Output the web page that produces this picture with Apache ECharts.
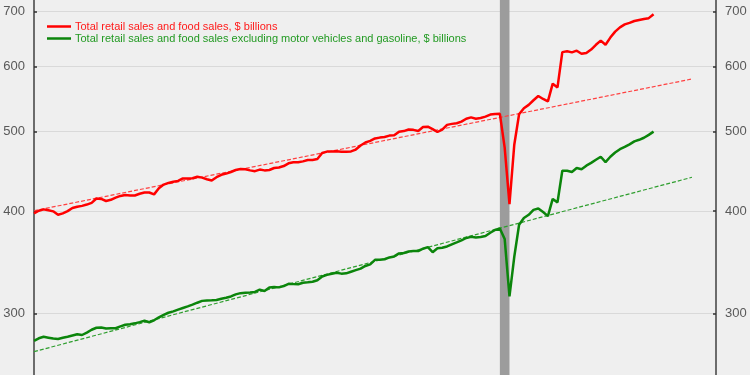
<!DOCTYPE html>
<html>
<head>
<meta charset="utf-8">
<script src="https://cdn.jsdelivr.net/npm/echarts@6/dist/echarts.min.js"></script>
<style>
  html, body { margin: 0; padding: 0; background: #efefef; }
  #chart { width: 750px; height: 375px; }
</style>
</head>
<body>
<div id="chart"></div>
<script>
// Monthly categories Jan 2012 .. Nov 2023 (data ends Oct 2022)
const startYear = 2012;
const monthCount = 143;
const categories = [];
for (let i = 0; i < monthCount; i++) {
  const y = startYear + Math.floor(i / 12);
  const m = (i % 12) + 1;
  categories.push(y + '-' + (m < 10 ? '0' + m : m));
}

// Total retail sales and food sales, $ billions (Jan 2012 .. Oct 2022)
const totalSales = [
  397.6, 400.5, 402, 401, 399.8, 396, 397.5, 400, 403.5, 405,
  406, 407.5, 409.5, 414.5, 414, 411.6, 413, 415.5, 417.5, 418.5,
  418, 418, 420, 421.5, 421.5, 419.3, 426.5, 431, 433, 434.5,
  435.5, 438.5, 438.5, 438.7, 440.5, 439.5, 437.5, 436, 440, 443,
  444.5, 446.5, 449, 450.2, 450, 448.5, 447.5, 449.5, 448.5, 449,
  451.5, 452.2, 454, 457.5, 458.8, 458.8, 460, 461.8, 461.8, 463,
  471, 472.8, 473, 473.3, 472.6, 472.5, 473, 475.5, 481, 485,
  487.2, 490.5, 491.7, 492.5, 494.5, 495, 500, 500.8, 503, 502.5,
  501, 506.5, 507, 503.5, 499.5, 502.8, 509.6, 511, 512, 514.2,
  518.5, 520.4, 518.5, 519.5, 521.5, 524.5, 525.5, 525.6, 478, 408,
  482, 525, 534, 539, 546, 552.5, 548, 544.4, 572, 566,
  625, 626.4, 624.5, 627.5, 622, 623.5, 629.5, 638, 645.5, 638,
  651, 662, 670, 675.5, 678.5, 682, 684, 686, 687.5, 695
];

// Total retail sales and food sales excluding motor vehicles and gasoline, $ billions
const coreSales = [
  278, 280, 281.2, 280.5, 279.8, 279.4, 280.4, 281.2, 282.2, 283.2,
  282.6, 284.5, 286.8, 288.4, 288.6, 287.8, 288, 288, 289.5, 290.8,
  291.2, 292, 293, 294.1, 292.9, 294.5, 297, 299, 300.8, 302,
  303.4, 304.8, 306.2, 307.7, 309.4, 311, 311.4, 311.5, 311.8, 312.9,
  313.8, 314.9, 316.7, 317.8, 318.1, 318.4, 318.9, 321, 319.8, 322.9,
  323.4, 323, 324.2, 326.3, 326, 325.8, 327.2, 327.6, 328.1, 329.5,
  333, 334.5, 335.6, 336.6, 335.7, 336, 337.5, 339, 340.5, 343,
  344.5, 349, 349, 349.5, 351.3, 352.3, 355.3, 355.7, 357.2, 357.7,
  357.7, 360, 361.6, 356.5, 360.5, 361, 362.3, 364.5, 366.4, 368.5,
  371, 372.2, 371.6, 372, 373, 376.5, 379.5, 381, 370, 315,
  352, 385, 392.5, 396, 401.5, 403, 399, 394.5, 414, 410,
  448, 448, 446.5, 451.5, 450, 454.5, 458, 462, 466, 459,
  466, 471.5, 476, 479, 482.5, 486.5, 488.7, 491.5, 495.5, 500
];

// Trend line endpoints (start month, end month) and values
const trendMonths = ['2012-01', '2023-06'];
const totalTrend = [400.5, 579.6];
const coreTrend = [269.7, 439.9];

// Recession shading
const recession = ['2020-02', '2020-04'];

// Axis ticks
const yTicks = [300, 400, 500, 600, 700];
const yMin = 252.6, yMax = 723.4;

const names = [
  'Total retail sales and food sales, $ billions',
  'Total retail sales and food sales excluding motor vehicles and gasoline, $ billions'
];

const chart = echarts.init(document.getElementById('chart'), null, { renderer: 'canvas' });

function yAxisDef(pos) {
  return {
    type: 'log',
    logBase: 10,
    position: pos,
    min: yMin,
    max: yMax,
    axisLine: { show: true, onZero: false, lineStyle: { color: '#404040', width: 1.5 } },
    axisTick: { show: true, inside: true, length: 3, lineStyle: { color: '#303030', width: 1.5 }, customValues: yTicks },
    axisLabel: {
      show: true, customValues: yTicks, color: '#595959', fontSize: 13,
      fontFamily: 'Liberation Sans, Arial, sans-serif', margin: 9,
      formatter: v => String(Math.round(v))
    },
    splitLine: { show: pos === 'left', lineStyle: { color: '#d9d9d9', width: 1 } },
    minorTick: { show: false },
    minorSplitLine: { show: false }
  };
}

chart.setOption({
  backgroundColor: '#efefef',
  animation: false,
  grid: { left: 34, right: 34, top: 0, bottom: 0, containLabel: false },
  legend: {
    data: [
      { name: names[0], icon: 'rect', textStyle: { color: '#ff1a1a' } },
      { name: names[1], icon: 'rect', textStyle: { color: '#229a22' } }
    ],
    orient: 'vertical',
    left: 47,
    top: 21,
    itemWidth: 24,
    itemHeight: 2.5,
    itemGap: 1,
    textStyle: { fontSize: 11, fontFamily: 'Liberation Sans, Arial, sans-serif', padding: [0, 0, 0, -1] },
    padding: 0
  },
  xAxis: {
    type: 'category',
    data: categories,
    boundaryGap: false,
    axisLine: { show: false },
    axisTick: { show: false },
    axisLabel: { show: false },
    splitLine: { show: false }
  },
  yAxis: [yAxisDef('left'), yAxisDef('right')],
  series: [
    {
      name: names[0],
      type: 'line',
      data: totalSales,
      symbol: 'none',
      lineStyle: { color: '#ff0000', width: 2.5 },
      itemStyle: { color: '#ff0000' },
      z: 5,
      markArea: {
        silent: true,
        itemStyle: { color: '#9c9c9c' },
        data: [[{ xAxis: recession[0] }, { xAxis: recession[1] }]]
      }
    },
    {
      name: names[1],
      type: 'line',
      data: coreSales,
      symbol: 'none',
      lineStyle: { color: '#0b850b', width: 2.5 },
      itemStyle: { color: '#0b850b' },
      z: 5
    },
    {
      name: 'Total trend',
      type: 'line',
      data: [[trendMonths[0], totalTrend[0]], [trendMonths[1], totalTrend[1]]],
      symbol: 'none',
      lineStyle: { color: '#ff4040', width: 1.2, type: [4, 2] },
      z: 4
    },
    {
      name: 'Core trend',
      type: 'line',
      data: [[trendMonths[0], coreTrend[0]], [trendMonths[1], coreTrend[1]]],
      symbol: 'none',
      lineStyle: { color: '#2e9e2e', width: 1.2, type: [4, 2] },
      z: 4
    }
  ]
});
</script>
</body>
</html>
